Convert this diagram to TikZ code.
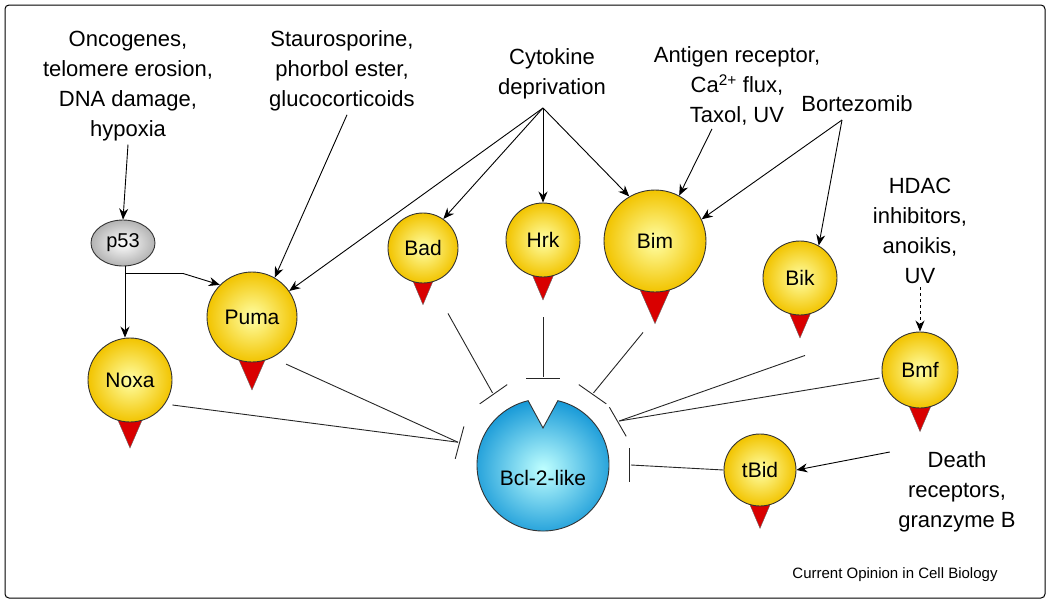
\documentclass[tikz,border=0pt]{standalone}
\usepackage{fontspec}
\setmainfont{Liberation Sans}
\usetikzlibrary{calc,arrows.meta,shapes.geometric}
\definecolor{ballY}{HTML}{F2C400}
\definecolor{ballB}{HTML}{1A9BD8}
\tikzset{
  lbl/.style={align=center,font=\fontsize{22}{30}\selectfont},
  ball/.style={circle,draw=black!80,line width=0.9pt,inner sep=0pt,shading=radial,inner color=yellow!35!white,outer color=ballY,font=\fontsize{21}{25}\selectfont},
  tri/.style={fill=red!85!black,draw=black!60,line width=0.4pt},
  act/.style={-{Stealth[length=11pt,width=9pt]},line width=0.9pt},
  inh/.style={line width=0.9pt,black!85},
}
\newcommand\myball[5]{%
  \fill[tri] (#2-#4*0.3,#3+#4-3) -- (#2+#4*0.3,#3+#4-3) -- (#2,#3+#4+#4*0.62) -- cycle;
  \node[ball,minimum size=#4*2pt] (#1) at (#2,#3) {#5};}
\begin{document}
\begin{tikzpicture}[x=1pt,y=-1pt]
\useasboundingbox (0,0) rectangle (1050,603);
\draw[line width=1pt,rounded corners=4pt] (5,5) rectangle (1045,598);
% Bcl-2
\coordinate (bcl) at (543,465);
\shade[inner color=cyan!25!white,outer color=ballB,draw=black!80,line width=0.9pt]
  ($(bcl)+(-77:66)$) arc[start angle=-77,end angle=257,radius=66] -- ($(bcl)+(0,-37)$) -- cycle;
\node[font=\fontsize{21}{25}\selectfont] (bcltxt) at (543,478) {Bcl-2-like};
% balls
\node[ellipse,minimum width=64pt,minimum height=46pt,draw=black!80,line width=0.9pt,shading=radial,inner color=white,outer color=gray!60,font=\fontsize{20}{24}\selectfont] (p53) at (123,243) {p53};
\myball{puma}{252}{317}{45}{Puma}
\myball{noxa}{130}{380}{42}{Noxa}
\myball{bad}{423}{248}{35}{Bad}
\myball{hrk}{543}{240}{37}{Hrk}
\myball{bim}{655}{241}{51}{Bim}
\myball{bik}{800}{278}{37}{Bik}
\myball{bmf}{920}{370}{38}{Bmf}
\myball{tbid}{760}{470}{36}{tBid}
% texts
\node[lbl] (onc) at (128,86) {Oncogenes,\\telomere erosion,\\DNA damage,\\hypoxia};
\node[lbl] (stau) at (342,71) {Staurosporine,\\phorbol ester,\\glucocorticoids};
\node[lbl] (cyto) at (552,74) {Cytokine\\deprivation};
\node[lbl] (anti) at (737,86) {Antigen receptor,\\Ca\textsuperscript{2+} flux,\\Taxol, UV};
\node[lbl] (bort) at (857,104) {Bortezomib};
\node[lbl] (hdac) at (920,231) {HDAC\\inhibitors,\\anoikis,\\UV};
\node[lbl] (death) at (957,492) {Death\\receptors,\\granzyme B};
\node[font=\fontsize{15}{18}\selectfont] (cap) at (895,575) {Current Opinion in Cell Biology};
% activating arrows
\draw[act] (onc.south) -- (p53.north);
\coordinate (j) at ($(p53.south)+(2,7)$);
\draw[act] (p53.south) ++(2,0) -- (noxa.north -| j);
\draw[act] (j) -- ++(58,0) -- (puma.north west);
\draw[act] (stau.south) ++(5,0) -- (puma.60);
\coordinate (cy) at (543,108);
\draw[act] (cy) -- (puma.35);
\draw[act] (cy) -- (bad.55);
\draw[act] (cy) -- (hrk.north);
\draw[act] (cy) -- (bim.120);
\draw[act] (anti.south) ++(-25,0) -- (bim.62);
\coordinate (bz) at (842,120);
\draw[act] (bz) -- (bim.25);
\draw[act] (bz) -- (bik.60);
\draw[act,dashed] (hdac.south) -- (bmf.north);
\draw[act] (death.west) ++(-5,-40) -- (tbid.east);
% inhibition
\foreach \a/\n in {195/L,235/TL,270/T,305/TR,330/R1,0/R2}{
  \coordinate (b\n) at ($(bcl)+(\a:88)$);
  \draw[inh] ($(bcl)+(\a-11:88)$) -- ($(bcl)+(\a+11:88)$);
}
\draw[inh] (noxa.east) ++(0,25) -- (bL);
\draw[inh] (puma.south east) ++(2,15) -- (bL);
\draw[inh] (bad.south) ++(25,30) -- (bTL);
\draw[inh] (hrk.south) ++(0,40) -- (bT);
\draw[inh] (bim.south) ++(-12,40) -- (bTR);
\draw[inh] (bik.south) ++(5,40) -- (bR1);
\draw[inh] (bmf.west) ++(-2,8) -- (bR1);
\draw[inh] (tbid.west) -- (bR2);
\end{tikzpicture}
\end{document}
